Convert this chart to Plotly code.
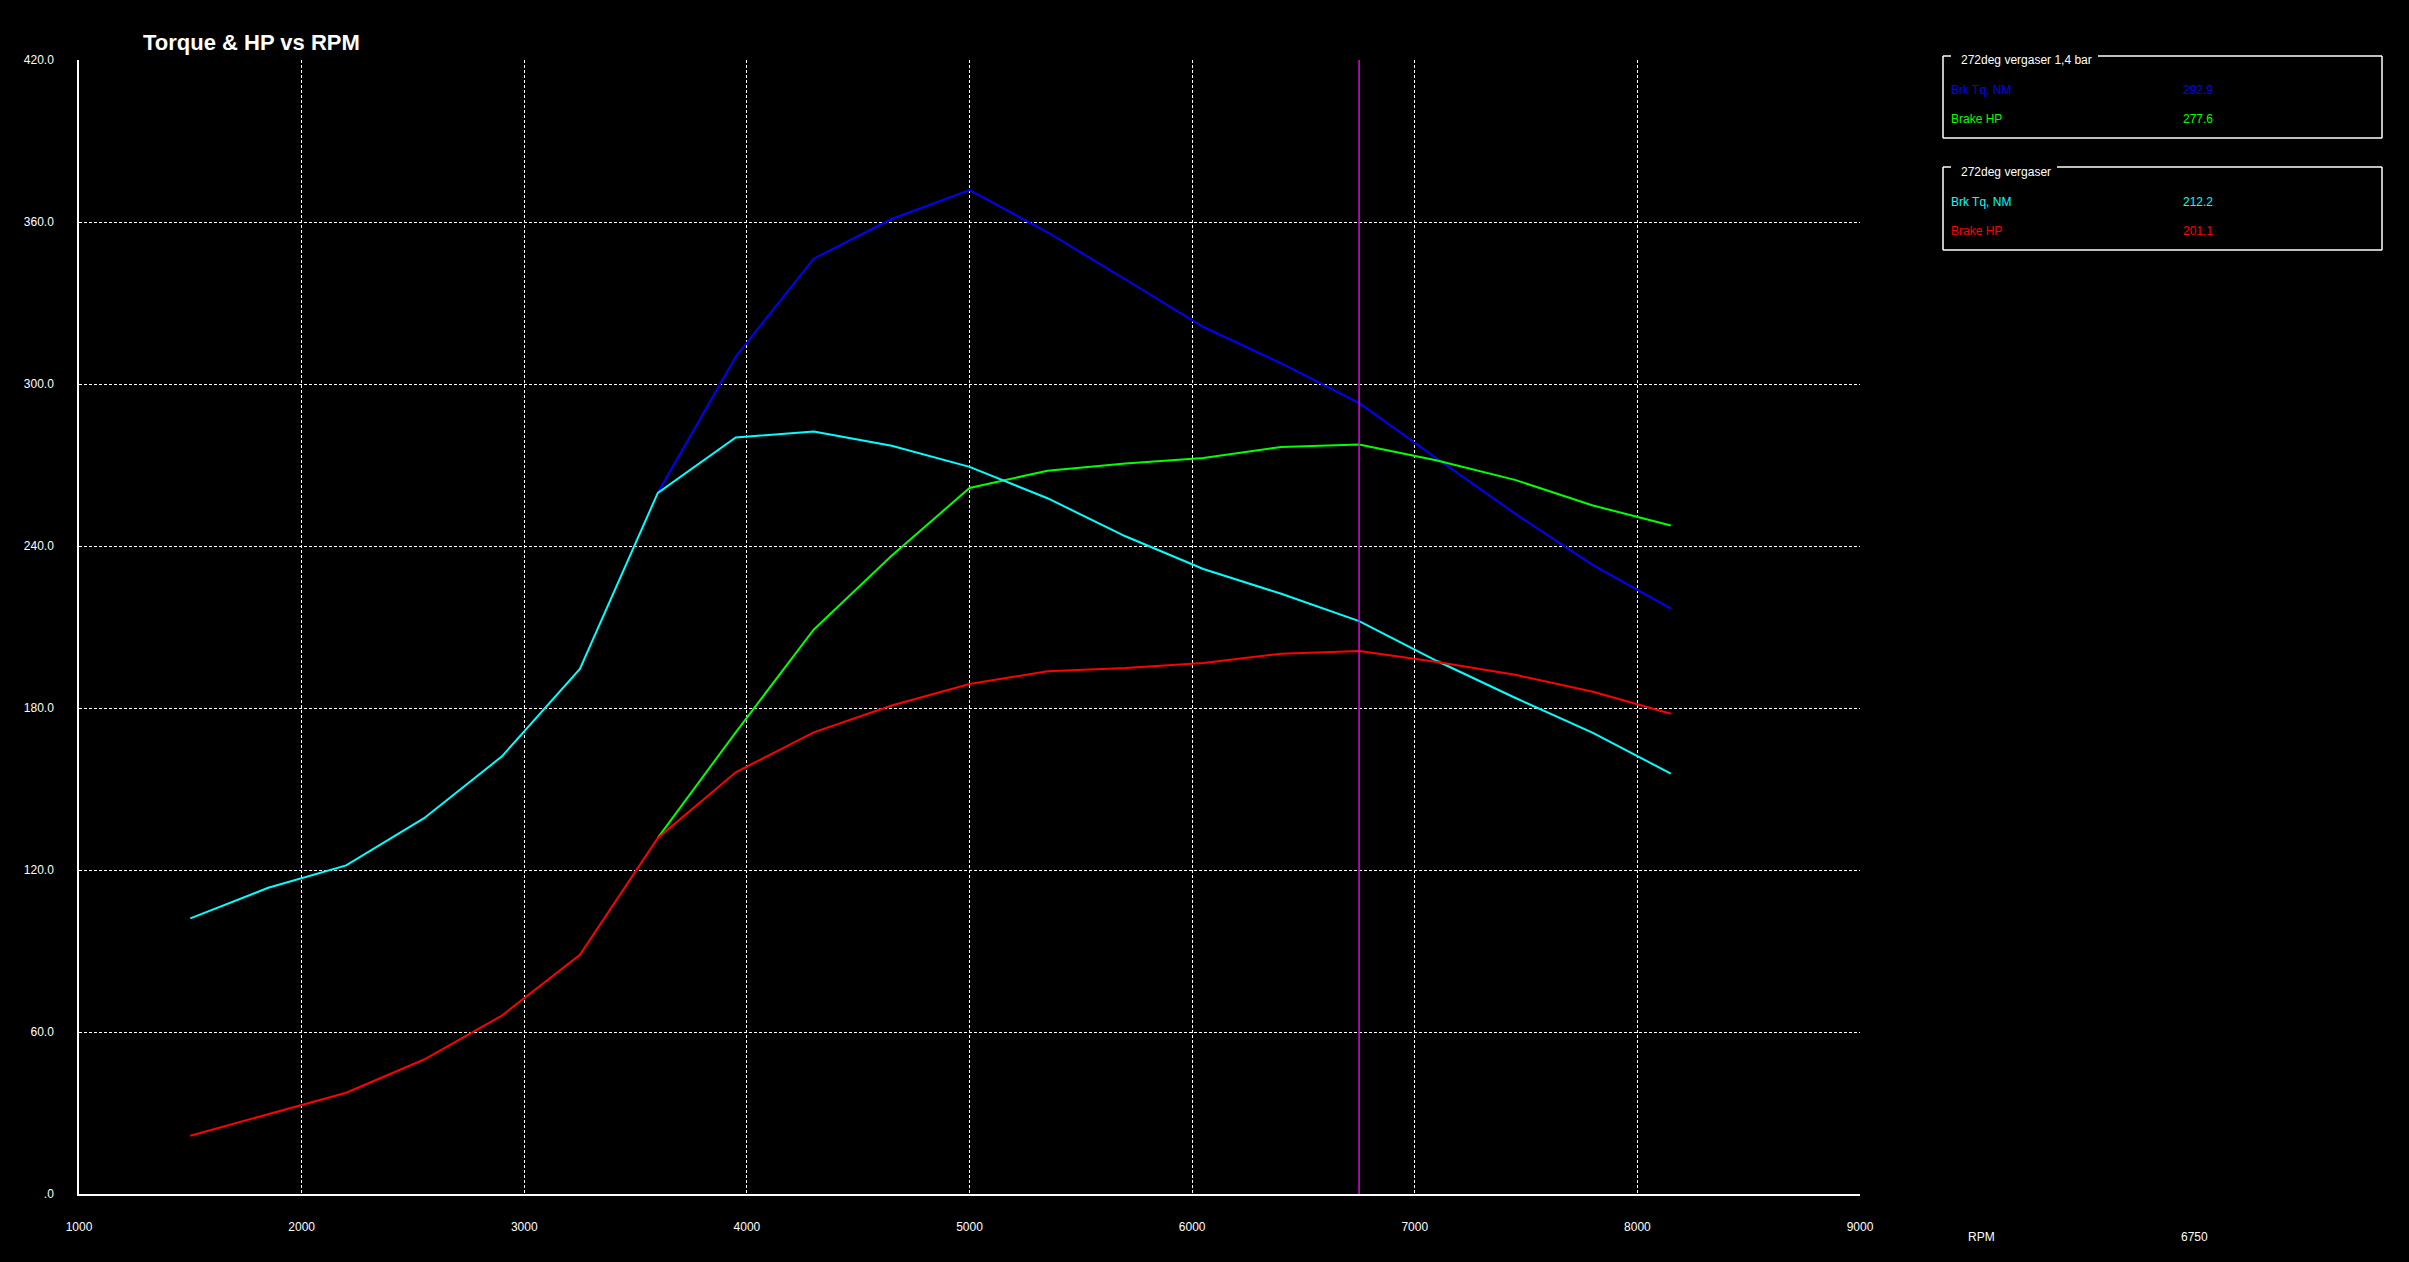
import plotly.graph_objects as go

# ---------------- data ----------------
rpm_base = [1500, 1850, 2200, 2550, 2900, 3250, 3600, 3950, 4300, 4650,
            5000, 5350, 5700, 6050, 6400, 6750, 7100, 7450, 7800, 8150]
tq_base = [102.1, 113.4, 121.7, 139.2, 162.1, 194.5, 259.7, 280.2, 282.4, 277.1,
           269.3, 257.7, 243.6, 231.5, 222.3, 212.2, 197.4, 183.8, 170.8, 155.7]
hp_base = [21.6, 29.6, 37.5, 49.8, 66.1, 88.6, 131.9, 156.2, 171.0, 180.9,
           188.9, 193.6, 194.8, 196.7, 200.1, 201.1, 197.0, 192.3, 186.0, 177.9]

rpm_boost = [3600, 3950, 4300, 4650, 5000, 5350, 5700, 6050, 6400, 6750,
             7100, 7450, 7800, 8150]
tq_boost = [259.7, 310.1, 346.4, 361.1, 371.8, 356.2, 338.7, 321.1, 307.6, 292.9,
            272.3, 252.0, 232.9, 216.8]
hp_boost = [131.9, 171.0, 209.0, 236.4, 261.5, 267.9, 270.6, 272.6, 276.7, 277.6,
            271.7, 264.5, 255.0, 247.6]

cursor_rpm = 6750
x_ticks = [1000, 2000, 3000, 4000, 5000, 6000, 7000, 8000, 9000]
y_ticks = [0, 60, 120, 180, 240, 300, 360, 420]
y_ticktext = [".0", "60.0", "120.0", "180.0", "240.0", "300.0", "360.0", "420.0"]

run1_name = "272deg vergaser 1,4 bar"
run2_name = "272deg vergaser"
run1_items = [("Brk Tq, NM", "292.9", "#0000FF"), ("Brake HP", "277.6", "#00FF00")]
run2_items = [("Brk Tq, NM", "212.2", "#00FFFF"), ("Brake HP", "201.1", "#FF0000")]

# ---------------- layout geometry ----------------
W, H = 2409, 1262
L, R, T, B = 79, 549, 60, 68
PW = W - L - R
PH = H - T - B


def px(x):
    return (x - L) / PW


def py(y):
    return (H - B - y) / PH


FONT = "Liberation Sans, Arial, sans-serif"

fig = go.Figure()
fig.add_trace(go.Scatter(x=rpm_boost, y=tq_boost, mode="lines",
                         line=dict(color="#0000FF", width=2), name="Brk Tq, NM (1,4 bar)"))
fig.add_trace(go.Scatter(x=rpm_boost, y=hp_boost, mode="lines",
                         line=dict(color="#00FF00", width=2), name="Brake HP (1,4 bar)"))
fig.add_trace(go.Scatter(x=rpm_base, y=tq_base, mode="lines",
                         line=dict(color="#00FFFF", width=2), name="Brk Tq, NM"))
fig.add_trace(go.Scatter(x=rpm_base, y=hp_base, mode="lines",
                         line=dict(color="#FF0000", width=2), name="Brake HP"))

shapes = []
# cursor line
shapes.append(dict(type="line", xref="x", yref="paper", x0=cursor_rpm, x1=cursor_rpm,
                   y0=0, y1=1, line=dict(color="#E600E6", width=1.5)))


def box(x0, x1, y0, y1, gap_end):
    c = dict(color="white", width=1.5)
    return [
        dict(type="line", xref="paper", yref="paper", x0=px(x0), x1=px(x0), y0=py(y0), y1=py(y1), line=c),
        dict(type="line", xref="paper", yref="paper", x0=px(x1), x1=px(x1), y0=py(y0), y1=py(y1), line=c),
        dict(type="line", xref="paper", yref="paper", x0=px(x0), x1=px(x1), y0=py(y1), y1=py(y1), line=c),
        dict(type="line", xref="paper", yref="paper", x0=px(x0), x1=px(x0 + 8), y0=py(y0), y1=py(y0), line=c),
        dict(type="line", xref="paper", yref="paper", x0=px(gap_end), x1=px(x1), y0=py(y0), y1=py(y0), line=c),
    ]


shapes += box(1943, 2382, 56, 138, 2098)
shapes += box(1943, 2382, 167, 250, 2057)

ann = []


def text(x, y, s, color="white", anchor="left", size=12):
    ann.append(dict(xref="paper", yref="paper", x=px(x), y=py(y), text=s, showarrow=False,
                    xanchor=anchor, yanchor="middle",
                    font=dict(family=FONT, size=size, color=color)))


text(1959, 60, run1_name)
for i, (lab, val, col) in enumerate(run1_items):
    text(1949, 90 + i * 29, lab, col)
    text(2181, 90 + i * 29, val, col)
text(1959, 172, run2_name)
for i, (lab, val, col) in enumerate(run2_items):
    text(1949, 202 + i * 29, lab, col)
    text(2181, 202 + i * 29, val, col)

text(1982, 1237, "RPM", anchor="center")
text(2194, 1237, str(cursor_rpm), anchor="center")

fig.update_layout(
    width=W, height=H, autosize=False,
    margin=dict(l=L, r=R, t=T, b=B, pad=0),
    paper_bgcolor="black", plot_bgcolor="black",
    showlegend=False,
    title=dict(text="<b>Torque & HP vs RPM</b>", x=143 / W, xanchor="left",
               y=1 - 42 / H, yanchor="middle", xref="container", yref="container",
               font=dict(family=FONT, size=22, color="white")),
    shapes=shapes, annotations=ann,
    font=dict(family=FONT, size=12, color="white"),
)
fig.update_xaxes(range=[1000, 9000], tickvals=x_ticks, ticktext=[str(v) for v in x_ticks],
                 showgrid=True, gridcolor="white", griddash="3px,2px", gridwidth=1,
                 showline=True, linecolor="white", linewidth=1.5, zeroline=False,
                 ticks="", ticklabelstandoff=21,
                 tickfont=dict(family=FONT, size=12, color="white"))
fig.update_yaxes(range=[0, 420], tickvals=y_ticks, ticktext=y_ticktext,
                 showgrid=True, gridcolor="white", griddash="3px,2px", gridwidth=1,
                 showline=True, linecolor="white", linewidth=1.5, zeroline=False,
                 ticks="", ticklabelstandoff=21,
                 tickfont=dict(family=FONT, size=12, color="white"))

fig.write_html("out.html", config={"displayModeBar": False},
               post_script="document.body.style.margin='0';document.body.style.overflow='hidden';")
